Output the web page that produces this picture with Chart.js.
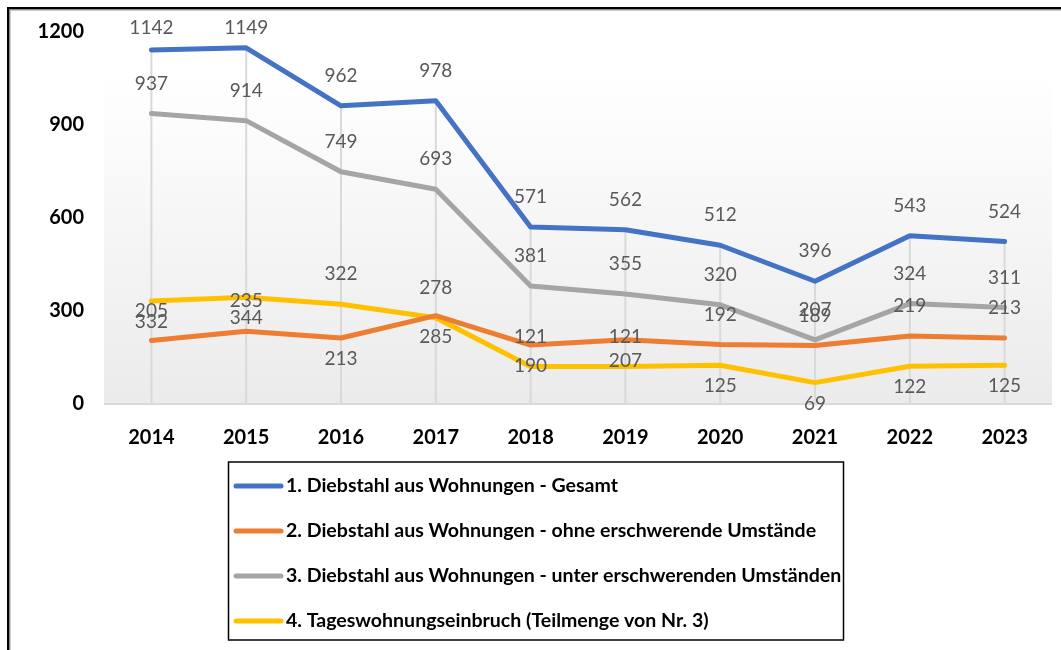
<!DOCTYPE html>
<html><head><meta charset="utf-8">
<script src="https://cdn.jsdelivr.net/npm/chart.js@4/dist/chart.umd.min.js"></script>
<style>html,body{margin:0;padding:0;background:#fff;overflow:hidden}#wrap{width:1061px;height:650px;position:relative}</style>
</head><body><div id="wrap"><canvas id="c" width="1061" height="650"></canvas></div>
<script>
const years = ['2014','2015','2016','2017','2018','2019','2020','2021','2022','2023'];
const gesamt = [1142,1149,962,978,571,562,512,396,543,524];
const ohneErschwerend = [205,235,213,285,190,207,192,189,219,213];
const unterErschwerend = [937,914,749,693,381,355,320,207,324,311];
const tageswohnung = [332,344,322,278,121,121,125,69,122,125];
const yTickValues = [0,300,600,900,1200];
const seriesNames = [
  '1. Diebstahl aus Wohnungen - Gesamt',
  '2. Diebstahl aus Wohnungen - ohne erschwerende Umstände',
  '3. Diebstahl aus Wohnungen - unter erschwerenden Umständen',
  '4. Tageswohnungseinbruch (Teilmenge von Nr. 3)'
];
// label placement ('a' above / 'b' below) per point
const sideAllAbove = ['a','a','a','a','a','a','a','a','a','a'];
const sideOhne = ['a','a','b','b','b','b','a','a','a','a'];
const sideTages = ['b','b','a','a','a','a','b','b','b','b'];

const FONT = 'Lato, "Open Sans", sans-serif';

const bgPlugin = {
  id:'bg',
  beforeDraw(chart){
    const {ctx, chartArea:a} = chart;
    ctx.save();
    const top = 76;
    const g = ctx.createLinearGradient(0, top, 0, a.bottom);
    g.addColorStop(0,'#ffffff'); g.addColorStop(1,'#ebebeb');
    ctx.fillStyle = g;
    ctx.fillRect(a.left, top, a.right - a.left, a.bottom - top);
    ctx.fillStyle = '#000';
    ctx.fillRect(7,7,1061-7,2.5);
    ctx.fillRect(7,7,2.5,650-7);
    ctx.fillStyle = '#9a9a9a';
    ctx.fillRect(9.5,9.5,1061,1);
    ctx.fillRect(9.5,9.5,1,650);
    ctx.restore();
  },
  beforeDatasetsDraw(chart){
    const {ctx, chartArea:a, scales:{x,y}} = chart;
    ctx.save();
    ctx.strokeStyle = '#d9d9d9'; ctx.lineWidth = 2;
    years.forEach((yr,i)=>{
      let mx = 0;
      chart.data.datasets.forEach(ds=>{ mx = Math.max(mx, ds.data[i]); });
      const px = x.getPixelForValue(i);
      ctx.beginPath(); ctx.moveTo(px, y.getPixelForValue(mx)); ctx.lineTo(px, a.bottom); ctx.stroke();
    });
    ctx.beginPath(); ctx.moveTo(a.left, a.bottom); ctx.lineTo(a.right, a.bottom); ctx.stroke();
    ctx.restore();
  },
  afterDatasetsDraw(chart){
    const {ctx} = chart;
    ctx.save();
    ctx.font = '19px ' + FONT;
    ctx.fillStyle = '#595959';
    ctx.textAlign = 'center'; ctx.textBaseline = 'middle';
    chart.data.datasets.forEach((ds,di)=>{
      const meta = chart.getDatasetMeta(di);
      meta.data.forEach((pt,i)=>{
        const side = ds.labelSide[i];
        let ly = side === 'a' ? pt.y - 30 : pt.y + 21;
        if (ly < 28) ly = 28;
        ctx.fillText(String(ds.data[i]), pt.x, ly);
      });
    });
    ctx.restore();
  },
  afterDraw(chart){
    const {ctx} = chart;
    ctx.save();
    ctx.strokeStyle = '#000'; ctx.lineWidth = 1.5;
    ctx.strokeRect(228.5, 462, 615, 178);
    ctx.font = 'bold 19px ' + FONT;
    ctx.textBaseline = 'middle'; ctx.textAlign = 'left';
    const sx = 332 / ctx.measureText(chart.data.datasets[0].label).width;
    chart.data.datasets.forEach((ds,i)=>{
      const yy = 486 + i*45;
      ctx.strokeStyle = ds.borderColor; ctx.lineWidth = 5; ctx.lineCap = 'round';
      ctx.beginPath(); ctx.moveTo(236, yy); ctx.lineTo(281, yy); ctx.stroke();
      ctx.fillStyle = '#000';
      ctx.save();
      ctx.translate(286, yy);
      ctx.scale(sx, 1);
      ctx.fillText(ds.label, 0, 0);
      ctx.restore();
    });
    ctx.restore();
  }
};

const mk = (label, data, color, side) => ({
  label, data, borderColor: color, backgroundColor: color, borderWidth: 5,
  pointRadius: 0, tension: 0, fill: false, labelSide: side,
  borderCapStyle: 'round', borderJoinStyle: 'round'
});

new Chart(document.getElementById('c'), {
  type: 'line',
  data: {
    labels: years,
    datasets: [
      mk(seriesNames[0], gesamt, '#4472C4', sideAllAbove),
      mk(seriesNames[1], ohneErschwerend, '#ED7D31', sideOhne),
      mk(seriesNames[2], unterErschwerend, '#A5A5A5', sideAllAbove),
      mk(seriesNames[3], tageswohnung, '#FFC000', sideTages)
    ]
  },
  options: {
    responsive: false, devicePixelRatio: 1, animation: false,
    layout: { padding: { left: 0, top: 32, right: 9, bottom: 0 } },
    plugins: { legend: { display: false }, tooltip: { enabled: false } },
    scales: {
      x: {
        offset: true,
        grid: { display: false, drawTicks: false },
        border: { display: false },
        ticks: { color: '#000', font: { family: FONT, size: 20, weight: 'bold' }, padding: 22, maxRotation: 0 },
        afterFit(s){ s.height = 650 - 404; }
      },
      y: {
        min: 0, max: 1200,
        grid: { display: false, drawTicks: false },
        border: { display: false },
        afterBuildTicks(s){ s.ticks = yTickValues.map(v=>({value:v})); },
        ticks: { color: '#000', font: { family: FONT, size: 20, weight: 'bold' }, padding: 20,
                 callback: v => String(v) },
        afterFit(s){ s.width = 104; }
      }
    }
  },
  plugins: [bgPlugin]
});
</script>
</body></html>
